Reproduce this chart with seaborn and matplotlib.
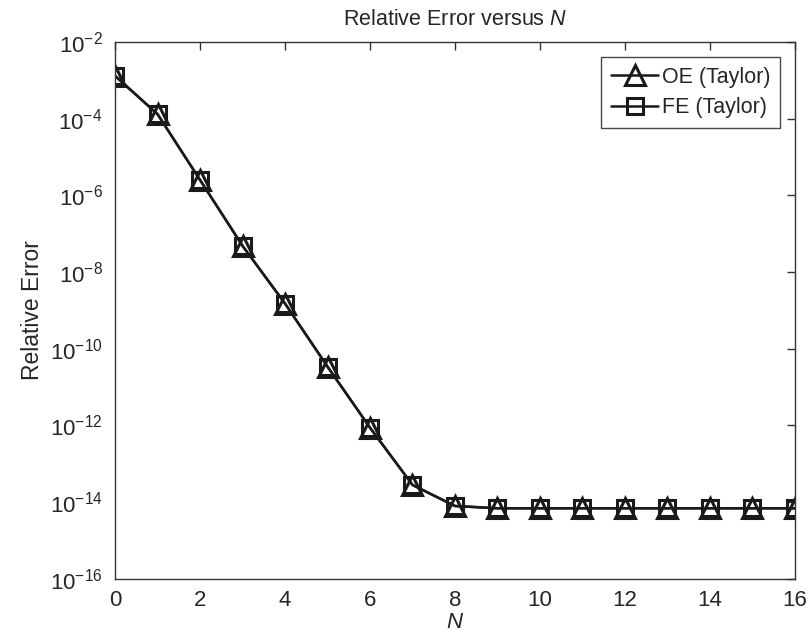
import numpy as np
import pandas as pd
import matplotlib
matplotlib.use("Agg")
import matplotlib.pyplot as plt
import seaborn as sns

# Data
N = list(range(17))
oe_taylor = [1.3e-3, 1.3e-4, 2.5e-6, 4.8e-8, 1.5e-9, 3.4e-11, 8.7e-13, 2.8e-14,
             7.9e-15, 6.9e-15, 6.9e-15, 6.9e-15, 6.9e-15, 6.9e-15, 6.9e-15, 6.9e-15, 6.9e-15]
fe_taylor = [1.3e-3, 1.3e-4, 2.5e-6, 4.8e-8, 1.5e-9, 3.4e-11, 8.7e-13, 2.8e-14,
             7.9e-15, 6.9e-15, 6.9e-15, 6.9e-15, 6.9e-15, 6.9e-15, 6.9e-15, 6.9e-15, 6.9e-15]
x_ticks = list(range(0, 17, 2))
y_ticks = [1e-16, 1e-14, 1e-12, 1e-10, 1e-8, 1e-6, 1e-4, 1e-2]

df = pd.DataFrame({"N": N, "OE (Taylor)": oe_taylor, "FE (Taylor)": fe_taylor})

sns.set_style("white")
plt.rcParams["font.family"] = ["Liberation Sans", "DejaVu Sans"]
plt.rcParams["mathtext.fontset"] = "custom"
plt.rcParams["mathtext.it"] = "Liberation Sans:italic"
plt.rcParams["mathtext.rm"] = "Liberation Sans"

fig = plt.figure(figsize=(8.11, 6.36), dpi=100)
ax = fig.add_axes([0.142, 0.09, 0.838, 0.844])

sns.lineplot(data=df, x="N", y="OE (Taylor)", ax=ax, color="#1a1a1a", lw=1.8,
             marker="^", markersize=15, markerfacecolor="none",
             markeredgecolor="#1a1a1a", markeredgewidth=2.2, label="OE (Taylor)")
sns.lineplot(data=df, x="N", y="FE (Taylor)", ax=ax, color="#1a1a1a", lw=1.8,
             marker="s", markersize=11, markerfacecolor="none",
             markeredgecolor="#1a1a1a", markeredgewidth=2.2, label="FE (Taylor)")

ax.set_yscale("log")
ax.set_xlim(0, 16)
ax.set_ylim(1e-16, 1e-2)
ax.set_xticks(x_ticks)
ax.set_yticks(y_ticks)
ax.minorticks_off()
ax.tick_params(direction="in", top=True, right=True, length=6, width=1,
               labelsize=16, color="#333333")
ax.tick_params(axis="y", pad=9)
ax.tick_params(axis="x", pad=8)
for s in ax.spines.values():
    s.set_color("#333333")
    s.set_linewidth(1)

ax.set_xlabel("$N$", fontsize=16, labelpad=1)
ax.set_ylabel("Relative Error", fontsize=16.5, labelpad=4)
ax.set_title("Relative Error versus $N$", fontsize=15.5, pad=12)

leg = ax.legend(loc="upper right", fontsize=15.5, frameon=True, fancybox=False,
                edgecolor="#1a1a1a", handlelength=2.2, handletextpad=0.15,
                borderpad=0.45, labelspacing=0.45, borderaxespad=0.7)
leg.get_frame().set_linewidth(1)
leg.legend_handles[0].set_markersize(15)
leg.legend_handles[1].set_markersize(11)

fig.savefig("out.png", dpi=100)
